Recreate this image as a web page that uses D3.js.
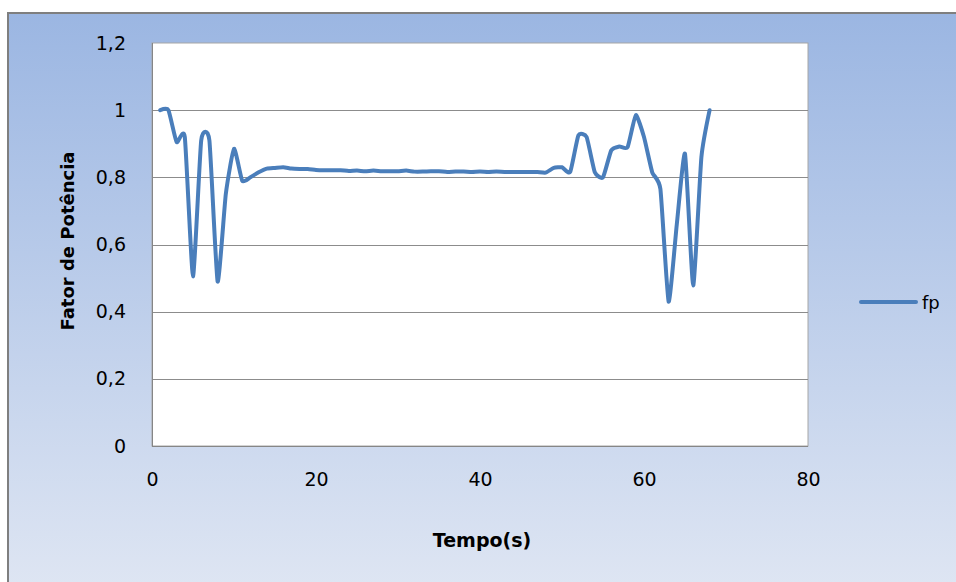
<!DOCTYPE html>
<html>
<head>
<meta charset="utf-8">
<script src="https://cdn.jsdelivr.net/npm/d3@7"></script>
<style>
  body { margin:0; background:#fff; }
  text { font-family:"DejaVu Sans", sans-serif; fill:#000; }
</style>
</head>
<body>
<div id="canvas"></div>
<script>
// fator de potencia ao longo do tempo
var tempo = [1,2,3,4,5,6,7,8,9,10,11,12,13,14,15,16,17,18,19,20,
    21,22,23,24,25,26,27,28,29,30,31,32,33,34,35,36,37,38,39,40,
    41,42,43,44,45,46,47,48,49,50,51,52,53,54,55,56,57,58,59,60,
    61,62,63,64,65,66,67,68];
var fp = [1.0,1.0,0.905,0.92,0.505,0.91,0.91,0.49,0.75,0.885,0.79,0.80,0.815,0.826,0.828,0.83,0.826,0.825,0.825,0.822,
    0.821,0.821,0.821,0.819,0.820,0.818,0.820,0.818,0.818,0.818,0.820,0.817,0.817,0.818,0.818,0.816,0.817,0.817,0.816,0.817,
    0.816,0.817,0.816,0.816,0.816,0.816,0.816,0.814,0.828,0.83,0.816,0.925,0.92,0.815,0.80,0.88,0.892,0.89,0.985,0.92,
    0.815,0.765,0.43,0.66,0.87,0.478,0.86,1.0];
var yTicks = [0,0.2,0.4,0.6,0.8,1,1.2];
var xTicks = [0,20,40,60,80];

var W = 956, H = 582,
    m = {t:43, r:148, b:136, l:152},
    w = W - m.l - m.r,
    h = H - m.t - m.b;

var svg = d3.select('#canvas')
    .append('svg')
    .attr('width', W)
    .attr('height', H);

var grad = svg.append('defs').append('linearGradient')
    .attr('id','bg').attr('x1',0).attr('y1',0).attr('x2',0).attr('y2',1);
grad.append('stop').attr('offset','0%').attr('stop-color','#9bb6e2');
grad.append('stop').attr('offset','100%').attr('stop-color','#dfe6f3');

// chart background + border
svg.append('rect').attr('x',7).attr('y',12).attr('width',W).attr('height',H)
    .style('fill','url(#bg)');
svg.append('line').attr('x1',8).attr('x2',W).attr('y1',13).attr('y2',13)
    .style('stroke','#7f7f7f').style('stroke-width','2px');
svg.append('line').attr('x1',8).attr('x2',8).attr('y1',12).attr('y2',H)
    .style('stroke','#7f7f7f').style('stroke-width','2px');

var x = d3.scaleLinear().domain([0,80]).range([0,w]);
var y = d3.scaleLinear().domain([0,1.2]).range([h,0]);
var fmt = function(d){ return String(d).replace('.',','); };

var plot = svg.append('g').attr('class','plot')
    .attr('transform','translate('+ m.l+','+ m.t+')');

plot.append('rect').attr('width',w).attr('height',h)
    .style('fill','#fff').style('stroke','#a6a6a6').style('stroke-width','1px');

plot.selectAll('.grid')
    .data(yTicks.filter(function(d){return d>0 && d<1.2}))
    .enter().append('line').attr('class','grid')
    .attr('x1',0).attr('x2',w)
    .attr('y1',function(d){return Math.round(y(d))+0.5})
    .attr('y2',function(d){return Math.round(y(d))+0.5})
    .style('stroke','#8c8c8c').style('stroke-width','1px');

plot.append('line').attr('x1',0.5).attr('x2',0.5).attr('y1',0).attr('y2',h)
    .style('stroke','#868686');
plot.append('line').attr('x1',0).attr('x2',w).attr('y1',h+0.5).attr('y2',h+0.5)
    .style('stroke','#868686');

// axes
var yAxis = d3.axisLeft(y).tickValues(yTicks).tickFormat(fmt).tickSize(0).tickPadding(26);
var xAxis = d3.axisBottom(x).tickValues(xTicks).tickSize(0).tickPadding(27);

var gy = plot.append('g').call(yAxis);
var gx = plot.append('g').attr('transform','translate(0,'+h+')').call(xAxis);
[gx, gy].forEach(function(g){
    g.select('.domain').remove();
    g.selectAll('text').style('font-size','19px').style('font-family','"DejaVu Sans", sans-serif');
});

// axis titles
svg.append('text')
    .attr('x',482).attr('y',547)
    .attr('text-anchor','middle')
    .style('font-size','19px').style('font-weight','bold')
    .text('Tempo(s)');
svg.append('text')
    .attr('transform','translate(74,241) rotate(-90)')
    .attr('text-anchor','middle')
    .style('font-size','18px').style('font-weight','bold')
    .text('Fator de Potência');

// series line (smoothed, like the spreadsheet)
var data = tempo.map(function(t,i){ return {t:t, v:fp[i]}; });
var line = d3.line()
    .x(function(d){return x(d.t)})
    .y(function(d){return y(d.v)})
    .curve(d3.curveCardinal.tension(0.5));

plot.append('path').datum(data)
    .attr('d', line)
    .style('fill','none')
    .style('stroke','#4a7ebb')
    .style('stroke-width','4px')
    .style('stroke-linejoin','round')
    .style('stroke-linecap','round');

// legend
var lg = svg.append('g').attr('transform','translate(861,302)');
lg.append('line').attr('x1',0).attr('x2',55)
    .style('stroke','#4a7ebb').style('stroke-width','4px').style('stroke-linecap','round');
lg.append('text').attr('x',61).attr('y',7)
    .style('font-size','18px')
    .text('fp');
</script>
</body>
</html>
